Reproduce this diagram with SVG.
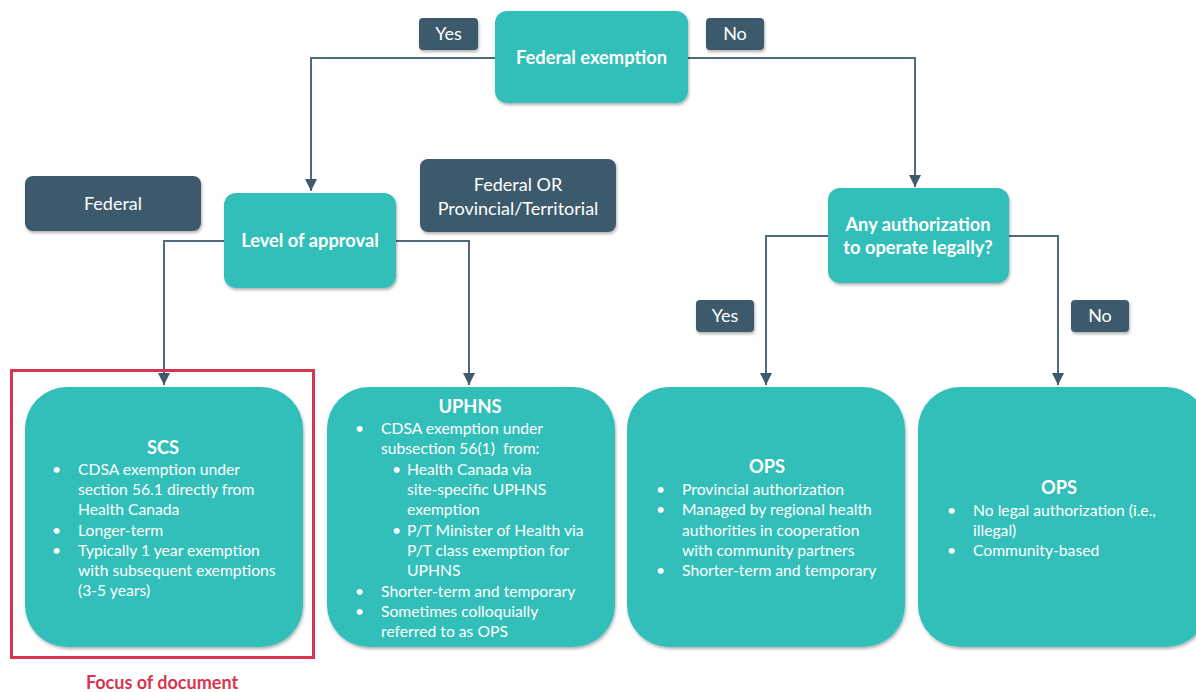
<svg xmlns="http://www.w3.org/2000/svg" width="1196" height="692" viewBox="0 0 1196 692">
<defs>
<filter id="sh" x="-10%" y="-10%" width="125%" height="130%">
<feDropShadow dx="1" dy="2" stdDeviation="1.8" flood-color="#000" flood-opacity="0.3"/>
</filter>
<marker id="ah" markerUnits="userSpaceOnUse" markerWidth="14" markerHeight="14" refX="12" refY="6" orient="auto">
<path d="M0,0 L12,6 L0,12 z" fill="#3f5a6c"/>
</marker>
<style>
.teal{fill:#30bfba;filter:url(#sh)}
.dark{fill:#3e5a6c;filter:url(#sh)}
.conn{fill:none;stroke:#506a7c;stroke-width:2}
text{font-family:Lato,"Open Sans","Liberation Sans",sans-serif;fill:#fff}
.lbl{font-size:18px;text-anchor:middle}
.hd{font-size:18.3px;font-weight:bold;text-anchor:middle}
.body{font-size:15.7px}
.red{fill:#d8344f;font-weight:bold;font-size:18px;text-anchor:middle}
</style>
</defs>
<rect width="1196" height="692" fill="#fff"/>
<g id="connectors">
<path class="conn" d="M495,58 H311 V191" marker-end="url(#ah)"/>
<path class="conn" d="M688,58 H915 V187" marker-end="url(#ah)"/>
<path class="conn" d="M224,241 H164 V385" marker-end="url(#ah)"/>
<path class="conn" d="M396,241 H469 V385" marker-end="url(#ah)"/>
<path class="conn" d="M828,236 H766 V385" marker-end="url(#ah)"/>
<path class="conn" d="M1009,236 H1058 V385" marker-end="url(#ah)"/>
</g>
<g id="federal-exemption">
<rect class="teal" x="495" y="11" width="193" height="92" rx="12"/>
<text class="hd" x="591.5" y="64">Federal exemption</text>
</g>
<g id="yes-top">
<rect class="dark" x="419" y="18" width="59" height="32" rx="4"/>
<text class="lbl" x="448.5" y="40">Yes</text>
</g>
<g id="no-top">
<rect class="dark" x="706" y="18" width="58" height="32" rx="4"/>
<text class="lbl" x="735" y="40">No</text>
</g>
<g id="federal">
<rect class="dark" x="25" y="176" width="176" height="55" rx="8"/>
<text class="lbl" x="113" y="210">Federal</text>
</g>
<g id="level-of-approval">
<rect class="teal" x="224" y="193" width="172" height="95" rx="12"/>
<text class="hd" x="310" y="247">Level of approval</text>
</g>
<g id="federal-or-pt">
<rect class="dark" x="420" y="159" width="196" height="73" rx="8"/>
<text class="lbl" x="518" y="191">Federal OR</text>
<text class="lbl" x="518" y="215">Provincial/Territorial</text>
</g>
<g id="any-authorization">
<rect class="teal" x="828" y="188" width="181" height="95" rx="12"/>
<text class="hd" x="918" y="231">Any authorization</text>
<text class="hd" x="918" y="254">to operate legally?</text>
</g>
<g id="yes-right">
<rect class="dark" x="696" y="300" width="58" height="32" rx="4"/>
<text class="lbl" x="725" y="322">Yes</text>
</g>
<g id="no-right">
<rect class="dark" x="1071" y="300" width="58" height="32" rx="4"/>
<text class="lbl" x="1100" y="322">No</text>
</g>
<g id="scs">
<rect x="11.5" y="370.5" width="302" height="287" fill="none" stroke="#d8344f" stroke-width="3"/>
<rect class="teal" x="25" y="387" width="278" height="260" rx="42"/>
<text class="hd" x="163" y="454">SCS</text>
<g class="body">
<text x="52" y="474.5">•</text><text x="78" y="474.5">CDSA exemption under</text>
<text x="78" y="495">section 56.1 directly from</text>
<text x="78" y="515">Health Canada</text>
<text x="52" y="535.5">•</text><text x="78" y="535.5">Longer-term</text>
<text x="52" y="555.5">•</text><text x="78" y="555.5">Typically 1 year exemption</text>
<text x="78" y="575.5">with subsequent exemptions</text>
<text x="78" y="595.5">(3-5 years)</text>
</g>
<text class="red" x="162" y="689">Focus of document</text>
</g>
<g id="uphns">
<rect class="teal" x="327" y="387" width="288" height="260" rx="42"/>
<text class="hd" x="470" y="413">UPHNS</text>
<g class="body">
<text x="355" y="433.5">•</text><text x="381" y="433.5">CDSA exemption under</text>
<text x="381" y="453.5">subsection 56(1)&#160; from:</text>
<text x="392" y="474.5">•</text><text x="407" y="474.5">Health Canada via</text>
<text x="407" y="494.5">site-specific UPHNS</text>
<text x="407" y="514.5">exemption</text>
<text x="392" y="535.5">•</text><text x="407" y="535.5">P/T Minister of Health via</text>
<text x="407" y="555.5">P/T class exemption for</text>
<text x="407" y="575.5">UPHNS</text>
<text x="355" y="596.5">•</text><text x="381" y="596.5">Shorter-term and temporary</text>
<text x="355" y="616.5">•</text><text x="381" y="616.5">Sometimes colloquially</text>
<text x="381" y="636.5">referred to as OPS</text>
</g>
</g>
<g id="ops-authorized">
<rect class="teal" x="627" y="387" width="278" height="260" rx="42"/>
<text class="hd" x="767" y="473">OPS</text>
<g class="body">
<text x="656" y="494.5">•</text><text x="682" y="494.5">Provincial authorization</text>
<text x="656" y="514.5">•</text><text x="682" y="514.5">Managed by regional health</text>
<text x="682" y="535.5">authorities in cooperation</text>
<text x="682" y="555.5">with community partners</text>
<text x="656" y="576">•</text><text x="682" y="576">Shorter-term and temporary</text>
</g>
</g>
<g id="ops-unauthorized">
<rect class="teal" x="918" y="387" width="290" height="260" rx="42"/>
<text class="hd" x="1059" y="494">OPS</text>
<g class="body">
<text x="947" y="515.5">•</text><text x="973" y="515.5">No legal authorization (i.e.,</text>
<text x="973" y="535.5">illegal)</text>
<text x="947" y="555.5">•</text><text x="973" y="555.5">Community-based</text>
</g>
</g>
</svg>
